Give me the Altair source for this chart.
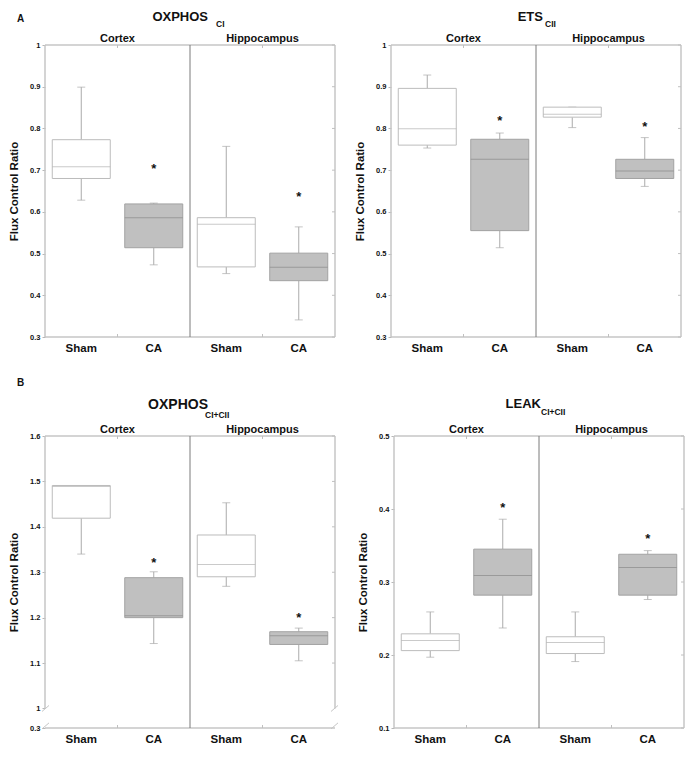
import altair as alt
import pandas as pd

# ---------------- data ----------------
categories = ["Cortex|Sham", "Cortex|CA", "Hippocampus|Sham", "Hippocampus|CA"]
groups = ["Sham", "CA", "Sham", "CA"]
header_names = ["Cortex", "Hippocampus"]
header_at = ["Cortex|CA", "Hippocampus|CA"]

# OXPHOS CI
oxci_low = [0.628, 0.473, 0.452, 0.341]
oxci_q1 = [0.680, 0.514, 0.468, 0.435]
oxci_med = [0.708, 0.586, 0.570, 0.467]
oxci_q3 = [0.773, 0.619, 0.586, 0.501]
oxci_high = [0.899, 0.621, 0.757, 0.564]
oxci_star = [None, 0.710, None, 0.644]
oxci_ticks = [0.3, 0.4, 0.5, 0.6, 0.7, 0.8, 0.9, 1.0]

# ETS CII
ets_low = [0.753, 0.514, 0.802, 0.661]
ets_q1 = [0.760, 0.555, 0.827, 0.680]
ets_med = [0.799, 0.726, 0.834, 0.698]
ets_q3 = [0.896, 0.774, 0.851, 0.726]
ets_high = [0.928, 0.789, 0.851, 0.778]
ets_star = [None, 0.825, None, 0.811]
ets_ticks = [0.3, 0.4, 0.5, 0.6, 0.7, 0.8, 0.9, 1.0]

# OXPHOS CI+CII (broken axis: bottom of axis labelled 0.3)
oxcc_low = [1.340, 1.143, 1.269, 1.105]
oxcc_q1 = [1.419, 1.200, 1.290, 1.141]
oxcc_med = [1.489, 1.204, 1.317, 1.160]
oxcc_q3 = [1.491, 1.288, 1.382, 1.169]
oxcc_high = [1.491, 1.301, 1.453, 1.177]
oxcc_star = [None, 1.327, None, 1.206]
oxcc_ticks = [0.957, 1.0, 1.1, 1.2, 1.3, 1.4, 1.5, 1.6]

# LEAK CI+CII
leak_low = [0.197, 0.237, 0.191, 0.276]
leak_q1 = [0.206, 0.282, 0.202, 0.282]
leak_med = [0.220, 0.309, 0.217, 0.320]
leak_q3 = [0.229, 0.345, 0.225, 0.338]
leak_high = [0.259, 0.386, 0.259, 0.343]
leak_star = [None, 0.405, None, 0.363]
leak_ticks = [0.1, 0.2, 0.3, 0.4, 0.5]

W = 290
H = 292
BW = 0.8 * W / 4
FONT = "Liberation Sans"
FRAME = "#c6c6c6"


def make_panel(title, sub, letter, low, q1, med, q3, high, star, domain, ticks,
               tfs, title_dx, sub_dx, title_y, sub_y, letter_y, broken=False):
    df = pd.DataFrame({"cat": categories, "grp": groups, "low": low, "q1": q1,
                       "med": med, "q3": q3, "high": high, "star": star})
    star_df = df[df["star"].notna()]

    label_expr = "datum.value < 0.99 && datum.value > 0.9 ? '0.3' : format(datum.value, '~g')" if broken \
        else "format(datum.value, '~g')"

    def Y(field):
        return alt.Y(field, type="quantitative",
                     scale=alt.Scale(domain=domain, nice=False, zero=False),
                     axis=alt.Axis(values=ticks, labelExpr=label_expr, domain=False, grid=False,
                                   tickSize=3, tickColor="#b8b8b8", labelFontSize=7.5,
                                   labelFontWeight="bold", labelColor="#111", labelPadding=2,
                                   titleFontSize=11.5, titleFontWeight="bold", titleColor="#111",
                                   titlePadding=10),
                     title="Flux Control Ratio")

    def X(band_pos=None):
        kw = {}
        if band_pos is not None:
            kw["bandPosition"] = band_pos
        return alt.X("cat", type="nominal",
                     scale=alt.Scale(domain=categories, paddingInner=0, paddingOuter=0),
                     axis=alt.Axis(labelExpr="indexof(datum.value, 'Sham') >= 0 ? 'Sham' : 'CA'",
                                   labelAngle=0, labelFontSize=11.5, labelFontWeight="bold",
                                   labelColor="#111", labelPadding=5, ticks=False, domain=False),
                     title=None, **kw)

    base = alt.Chart(df)
    one = pd.DataFrame({"k": [0]})
    layers = []

    # frame
    if broken:
        fr = pd.DataFrame({"top": [domain[1]], "brk": [1.0], "bot": [domain[0]]})
        layers.append(alt.Chart(fr).mark_rule(color=FRAME, strokeWidth=1.5).encode(
            x=alt.value(0), y=Y("top:Q"), y2=alt.Y2("brk:Q")))
        layers.append(alt.Chart(fr).mark_rule(color=FRAME, strokeWidth=1.5).encode(
            x=alt.value(W), y=Y("top:Q"), y2=alt.Y2("brk:Q")))
        d = (domain[1] - domain[0]) * 3.0 / H
        sl = pd.DataFrame({"a": [1.0 - d, domain[0] - d * 0.3], "b": [1.0 + d, domain[0] + d * 1.7]})
        layers.append(alt.Chart(sl).mark_rule(color=FRAME, strokeWidth=1).encode(
            x=alt.value(-3), x2=alt.value(4), y=Y("a:Q"), y2=alt.Y2("b:Q")))
        layers.append(alt.Chart(sl).mark_rule(color=FRAME, strokeWidth=1).encode(
            x=alt.value(W - 4), x2=alt.value(W + 3), y=Y("a:Q"), y2=alt.Y2("b:Q")))
    else:
        layers.append(alt.Chart(one).mark_rule(color=FRAME, strokeWidth=1.5).encode(
            x=alt.value(0), y=alt.value(0), y2=alt.value(H)))
        layers.append(alt.Chart(one).mark_rule(color=FRAME, strokeWidth=1.5).encode(
            x=alt.value(W), y=alt.value(0), y2=alt.value(H)))
    layers.append(alt.Chart(one).mark_rule(color=FRAME, strokeWidth=1.5).encode(
        x=alt.value(0), x2=alt.value(W), y=alt.value(0)))
    layers.append(alt.Chart(one).mark_rule(color=FRAME, strokeWidth=1.5).encode(
        x=alt.value(0), x2=alt.value(W), y=alt.value(H)))

    # inner ticks on right side
    rt = pd.DataFrame({"v": [t for t in ticks if t > 1.0] if broken else ticks})
    layers.append(alt.Chart(rt).mark_rule(color="#c0c0c0", strokeWidth=1).encode(
        x=alt.value(W - 3), x2=alt.value(W), y=Y("v:Q")))
    # inner ticks top / bottom at group boundaries
    tb = pd.DataFrame({"cat": header_at})
    layers.append(alt.Chart(tb).mark_rule(color="#c0c0c0", strokeWidth=1).encode(
        x=X(0), y=alt.value(0), y2=alt.value(3)))
    layers.append(alt.Chart(tb).mark_rule(color="#c0c0c0", strokeWidth=1).encode(
        x=X(0), y=alt.value(H - 3), y2=alt.value(H)))
    # divider between regions
    dv = pd.DataFrame({"cat": ["Hippocampus|Sham"]})
    layers.append(alt.Chart(dv).mark_rule(color="#7a7a7a", strokeWidth=1).encode(
        x=X(0), y=alt.value(0), y2=alt.value(H)))

    # whiskers
    layers.append(base.mark_rule(color="#ababab", strokeWidth=1).encode(
        x=X(), y=Y("low:Q"), y2=alt.Y2("q1:Q")))
    layers.append(base.mark_rule(color="#ababab", strokeWidth=1).encode(
        x=X(), y=Y("q3:Q"), y2=alt.Y2("high:Q")))
    layers.append(base.mark_tick(color="#ababab", thickness=1, size=8).encode(
        x=X(), y=Y("low:Q")))
    layers.append(base.mark_tick(color="#ababab", thickness=1, size=8).encode(
        x=X(), y=Y("high:Q")))
    # boxes
    layers.append(base.mark_bar(width=BW, strokeWidth=1).encode(
        x=X(), y=Y("q1:Q"), y2=alt.Y2("q3:Q"),
        fill=alt.condition("datum.grp == 'CA'", alt.value("#c0c0c0"), alt.value("#ffffff")),
        stroke=alt.condition("datum.grp == 'CA'", alt.value("#a2a2a2"), alt.value("#bcbcbc"))))
    # medians
    layers.append(base.mark_tick(thickness=1, size=BW).encode(
        x=X(), y=Y("med:Q"),
        color=alt.condition("datum.grp == 'CA'", alt.value("#8a8a8a"), alt.value("#b4b4b4"))))
    # significance stars
    layers.append(alt.Chart(star_df).mark_text(text="*", fontSize=13, fontWeight="bold",
                                                baseline="middle", dy=3, font=FONT, color="#111").encode(
        x=X(), y=Y("star:Q")))
    # region headers
    hd = pd.DataFrame({"cat": header_at, "name": header_names})
    layers.append(alt.Chart(hd).mark_text(fontSize=11, fontWeight="bold", baseline="alphabetic",
                                          font=FONT, color="#111").encode(
        x=X(0), y=alt.value(-3.5), text="name:N"))
    # titles
    layers.append(alt.Chart(one).mark_text(text=title, fontSize=tfs, fontWeight="bold", align="right",
                                           baseline="alphabetic", font=FONT, color="#111").encode(
        x=alt.value(W / 2 + title_dx), y=alt.value(title_y)))
    layers.append(alt.Chart(one).mark_text(text=sub, fontSize=8.5, fontWeight="bold", align="left",
                                           baseline="alphabetic", font=FONT, color="#111").encode(
        x=alt.value(W / 2 + sub_dx), y=alt.value(sub_y)))
    if letter:
        layers.append(alt.Chart(one).mark_text(text=letter, fontSize=10, fontWeight="bold", align="left",
                                               baseline="alphabetic", font=FONT, color="#111").encode(
            x=alt.value(-28), y=alt.value(letter_y)))

    return alt.layer(*layers).properties(width=W, height=H)


p1 = make_panel("OXPHOS", "CI", "A", oxci_low, oxci_q1, oxci_med, oxci_q3, oxci_high, oxci_star,
                [0.3, 1.0], oxci_ticks, 13, 18, 26, -24, -18, -23)
p2 = make_panel("ETS", "CII", None, ets_low, ets_q1, ets_med, ets_q3, ets_high, ets_star,
                [0.3, 1.0], ets_ticks, 13, 7, 9, -24, -18, -23)
p3 = make_panel("OXPHOS", "CI+CII", "B", oxcc_low, oxcc_q1, oxcc_med, oxcc_q3, oxcc_high, oxcc_star,
                [0.957, 1.6], oxcc_ticks, 14, 18, 15, -27, -18, -50, broken=True)
p4 = make_panel("LEAK", "CI+CII", None, leak_low, leak_q1, leak_med, leak_q3, leak_high, leak_star,
                [0.1, 0.5], leak_ticks, 13, 2, 2, -28, -21, -50)

row1 = alt.hconcat(p1, p2, spacing=18)
row2 = alt.hconcat(p3, p4, spacing=18)
chart = alt.vconcat(row1, row2, spacing=24).properties(
    padding={"left": 0, "top": 3, "right": 0, "bottom": 0}
).configure(font=FONT, background="white").configure_view(strokeWidth=0)

chart.save("out.html", embed_options={"renderer": "svg", "actions": False})
